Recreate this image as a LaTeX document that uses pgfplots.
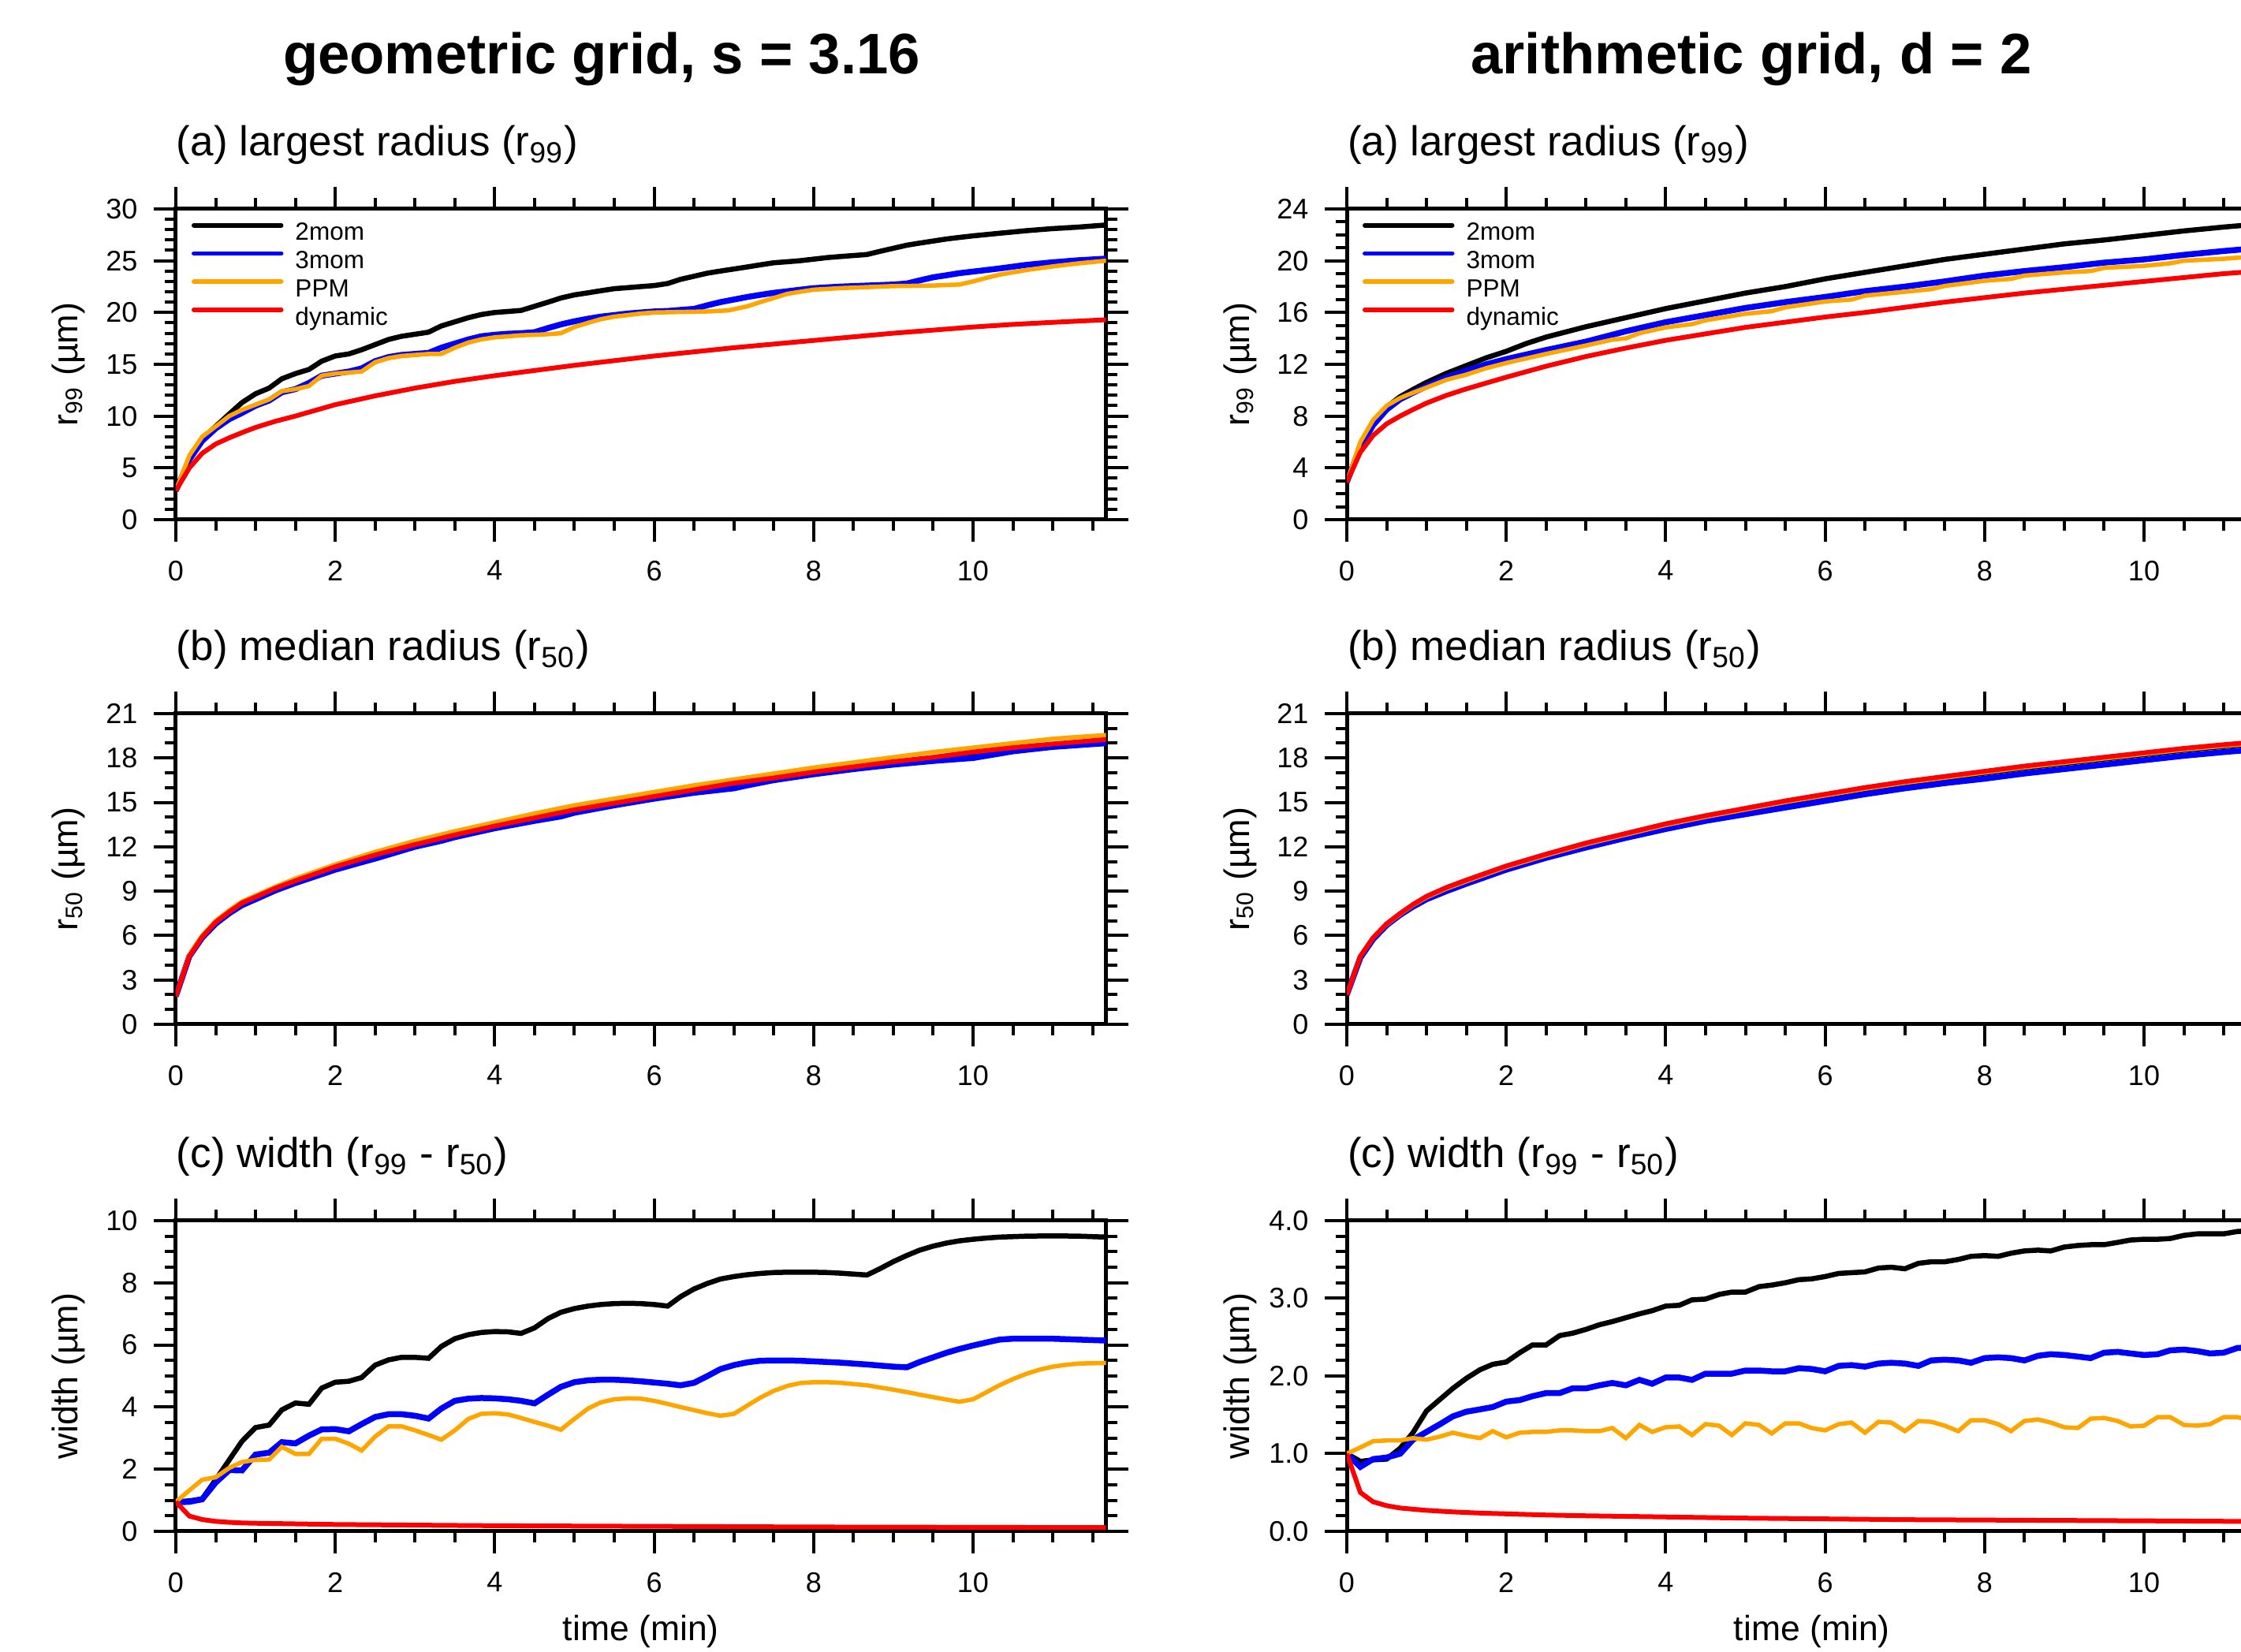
\documentclass[border=0pt]{standalone}
\usepackage{fontspec}
\setmainfont{Liberation Sans}
\usepackage{pgfplots}
\pgfplotsset{compat=1.18}
\definecolor{ncorange}{RGB}{255,165,0}
\definecolor{ncblue}{RGB}{0,0,255}
\definecolor{ncred}{RGB}{255,0,0}
\pgfplotsset{
  panel/.style={
    scale only axis, width=235.9pt, height=78.8pt,
    xmin=0, xmax=11.6667,
    xtick={0,2,4,6,8,10},
    minor xtick={0.5,1,1.5,2.5,3,3.5,4.5,5,5.5,6.5,7,7.5,8.5,9,9.5,10.5,11,11.5},
    xtick pos=both, ytick pos=both,
    xticklabel pos=left, yticklabel pos=left,
    tick align=outside,
    major tick length=5.6pt, minor tick length=2.8pt,
    tick style={line width=0.8pt, black},
    axis line style={line width=1pt},
    tick label style={font=\fontsize{7.2}{8}\selectfont},
    /pgf/number format/assume math mode=true,
    yticklabel style={anchor=east, inner sep=0pt, xshift=-3.9pt},
    xticklabel style={anchor=north, inner sep=0pt, yshift=-4.6pt},
    every axis title/.style={at={(rel axis cs:0,1)}, anchor=base west, yshift=13.4pt, font=\fontsize{10.6}{13}\selectfont, inner sep=0pt},
    every axis y label/.style={at={(rel axis cs:0,0.5)}, rotate=90, anchor=base, yshift=24.8pt, font=\fontsize{9}{10}\selectfont, inner sep=0pt},
    every axis x label/.style={at={(rel axis cs:0.5,0)}, anchor=base, yshift=-27.8pt, font=\fontsize{8.9}{10}\selectfont, inner sep=0pt},
    legend style={draw=none, fill=none, at={(0,1)}, anchor=north west, xshift=3.8pt, yshift=-2.6pt,
      font=\fontsize{6.3}{7}\selectfont, inner sep=0pt, column sep=3pt, row sep=0pt,
      nodes={inner sep=0pt, text height=5.2pt, text depth=1.94pt}},
    legend cell align=left,
    legend image code/.code={\draw[##1, line width=1.1pt, line cap=round] (0pt,2.2pt) -- (22.2pt,2.2pt);},
  },
  c2/.style={black, line width=1.3pt},
  c3/.style={ncblue, line width=1.5pt},
  cP/.style={ncorange, line width=1.1pt},
  cD/.style={ncred, line width=1.2pt},
}
\begin{document}
\begin{tikzpicture}
\useasboundingbox (0,0) rectangle (568.4pt,419pt);
\clip (0,0) rectangle (568.4pt,419pt);

\node[font=\fontsize{14.5}{16}\selectfont\bfseries, anchor=base, inner sep=0pt] at (152.6pt,400.2pt) {geometric grid, s = 3.16};
\node[font=\fontsize{14.5}{16}\selectfont\bfseries, anchor=base, inner sep=0pt] at (444.2pt,400.2pt) {arithmetic grid, d = 2};

% ---------------- (a) left
\begin{axis}[panel, at={(44.6pt,287.2pt)}, anchor=south west,
  ymin=0, ymax=30, ytick={0,5,...,30}, minor y tick num=4,
  title={(a) largest radius (r\textsubscript{99})}, ylabel={r\textsubscript{99} (µm)}]
\addplot[c2] coordinates {(0,2.8) (0.17,5.8) (0.33,7.8) (0.5,9.0) (0.67,10.2) (0.83,11.3) (1.0,12.15) (1.17,12.7) (1.33,13.6) (1.5,14.1) (1.67,14.5) (1.83,15.3) (2.0,15.8) (2.17,16.0) (2.33,16.4) (2.5,16.9) (2.67,17.4) (2.83,17.7) (3.0,17.9) (3.17,18.1) (3.33,18.7) (3.5,19.1) (3.67,19.5) (3.83,19.8) (4.0,20.0) (4.17,20.1) (4.33,20.2) (4.5,20.6) (4.67,21.0) (4.83,21.4) (5.0,21.7) (5.17,21.9) (5.33,22.1) (5.5,22.3) (5.67,22.4) (5.83,22.5) (6.0,22.6) (6.17,22.8) (6.33,23.2) (6.5,23.5) (6.67,23.8) (6.83,24.0) (7.0,24.2) (7.17,24.4) (7.33,24.6) (7.5,24.8) (7.67,24.9) (7.83,25.0) (8.0,25.15) (8.17,25.3) (8.33,25.4) (8.5,25.5) (8.67,25.6) (8.83,25.9) (9.0,26.2) (9.17,26.5) (9.33,26.7) (9.5,26.9) (9.67,27.1) (9.83,27.25) (10.0,27.4) (10.33,27.65) (10.67,27.9) (11.0,28.1) (11.33,28.25) (11.67,28.45)};
\addplot[c3] coordinates {(0,2.8) (0.17,5.8) (0.33,7.6) (0.5,8.8) (0.67,9.7) (0.83,10.3) (1.0,11.0) (1.17,11.5) (1.33,12.3) (1.5,12.6) (1.67,13.2) (1.83,13.9) (2.0,14.1) (2.17,14.3) (2.33,14.6) (2.5,15.3) (2.67,15.7) (2.83,15.9) (3.0,16.0) (3.17,16.1) (3.33,16.6) (3.5,17.0) (3.67,17.4) (3.83,17.7) (4.0,17.85) (4.17,17.95) (4.33,18.0) (4.5,18.1) (4.67,18.5) (4.83,18.85) (5.0,19.15) (5.17,19.4) (5.33,19.6) (5.5,19.75) (5.67,19.9) (5.83,20.0) (6.0,20.1) (6.17,20.15) (6.33,20.25) (6.5,20.35) (6.67,20.7) (6.83,21.0) (7.0,21.25) (7.17,21.5) (7.33,21.7) (7.5,21.9) (7.67,22.05) (7.83,22.2) (8.0,22.35) (8.33,22.5) (8.67,22.6) (9.0,22.7) (9.17,22.8) (9.33,23.1) (9.5,23.4) (9.67,23.6) (9.83,23.8) (10.0,23.95) (10.33,24.25) (10.67,24.6) (11.0,24.85) (11.33,25.05) (11.67,25.2)};
\addplot[cP] coordinates {(0,2.8) (0.17,6.2) (0.33,8.0) (0.5,9.0) (0.67,10.0) (0.83,10.6) (1.0,11.1) (1.17,11.6) (1.33,12.4) (1.5,12.6) (1.67,12.9) (1.83,13.9) (2.0,14.1) (2.17,14.2) (2.33,14.3) (2.5,15.2) (2.67,15.6) (2.83,15.8) (3.0,15.9) (3.17,16.0) (3.33,16.0) (3.5,16.6) (3.67,17.1) (3.83,17.4) (4.0,17.6) (4.17,17.7) (4.33,17.8) (4.5,17.85) (4.67,17.9) (4.83,18.0) (5.0,18.6) (5.17,19.0) (5.33,19.35) (5.5,19.6) (5.67,19.75) (5.83,19.9) (6.0,20.0) (6.33,20.05) (6.67,20.1) (6.93,20.2) (7.17,20.6) (7.33,21.0) (7.5,21.4) (7.67,21.8) (7.83,22.0) (8.0,22.2) (8.33,22.35) (8.67,22.45) (9.0,22.55) (9.5,22.6) (9.83,22.7) (10.0,23.0) (10.17,23.35) (10.33,23.65) (10.67,24.1) (11.0,24.45) (11.33,24.75) (11.67,25.0)};
\addplot[cD] coordinates {(0,2.8) (0.17,5.0) (0.33,6.4) (0.5,7.3) (0.67,7.9) (0.83,8.4) (1.0,8.9) (1.25,9.5) (1.5,10.0) (2.0,11.1) (2.5,11.95) (3.0,12.7) (3.5,13.35) (4.0,13.9) (4.5,14.4) (5.0,14.9) (5.5,15.35) (6.0,15.8) (6.5,16.2) (7.0,16.6) (7.5,16.95) (8.0,17.3) (8.5,17.65) (9.0,18.0) (9.5,18.3) (10.0,18.6) (10.5,18.85) (11.0,19.05) (11.67,19.3)};
\legend{2mom,3mom,PPM,dynamic}
\end{axis}

% ---------------- (a) right
\begin{axis}[panel, at={(341.6pt,287.2pt)}, anchor=south west,
  ymin=0, ymax=24, ytick={0,4,...,24}, minor y tick num=3,
  title={(a) largest radius (r\textsubscript{99})}, ylabel={r\textsubscript{99} (µm)}]
\addplot[c2] coordinates {(0,2.9) (0.17,5.8) (0.33,7.5) (0.5,8.7) (0.67,9.5) (0.83,10.05) (1.0,10.6) (1.25,11.3) (1.5,11.9) (1.75,12.5) (2.0,13.0) (2.25,13.6) (2.5,14.1) (2.75,14.5) (3.0,14.9) (3.5,15.6) (4.0,16.3) (4.5,16.9) (5.0,17.5) (5.5,18.0) (6.0,18.6) (6.5,19.1) (7.0,19.6) (7.5,20.1) (8.0,20.5) (8.5,20.9) (9.0,21.3) (9.5,21.6) (10.0,21.95) (10.5,22.3) (11.0,22.6) (11.67,22.95)};
\addplot[c3] coordinates {(0,2.9) (0.17,5.6) (0.33,7.3) (0.5,8.5) (0.67,9.3) (0.83,9.8) (1.0,10.3) (1.25,11.0) (1.5,11.5) (1.75,12.0) (2.0,12.4) (2.5,13.1) (3.0,13.75) (3.5,14.55) (4.0,15.25) (4.5,15.8) (5.0,16.35) (5.5,16.8) (6.0,17.2) (6.5,17.65) (7.0,18.0) (7.5,18.4) (8.0,18.85) (8.5,19.2) (9.0,19.5) (9.5,19.85) (10.0,20.1) (10.5,20.45) (11.0,20.75) (11.67,21.1)};
\addplot[cP] coordinates {(0,2.9) (0.17,6.0) (0.33,7.7) (0.5,8.8) (0.67,9.4) (0.83,9.8) (1.0,10.2) (1.25,10.8) (1.5,11.2) (1.75,11.7) (2.0,12.1) (2.5,12.8) (3.0,13.45) (3.33,13.9) (3.5,14.0) (3.67,14.4) (4.0,14.85) (4.33,15.1) (4.5,15.4) (5.0,15.9) (5.33,16.1) (5.5,16.4) (6.0,16.85) (6.33,17.0) (6.5,17.3) (7.0,17.6) (7.33,17.8) (7.5,18.05) (8.0,18.45) (8.33,18.6) (8.5,18.85) (9.0,19.1) (9.33,19.2) (9.5,19.45) (10.0,19.6) (10.33,19.8) (10.5,20.0) (11.0,20.15) (11.33,20.3) (11.67,20.6)};
\addplot[cD] coordinates {(0,2.9) (0.17,5.2) (0.33,6.5) (0.5,7.4) (0.67,8.0) (0.83,8.5) (1.0,9.0) (1.25,9.6) (1.5,10.1) (2.0,11.0) (2.5,11.85) (3.0,12.6) (3.5,13.25) (4.0,13.85) (4.5,14.35) (5.0,14.85) (5.5,15.25) (6.0,15.65) (6.5,16.0) (7.0,16.4) (7.5,16.8) (8.0,17.15) (8.5,17.5) (9.0,17.8) (9.5,18.1) (10.0,18.4) (10.5,18.7) (11.0,19.0) (11.67,19.3)};
\legend{2mom,3mom,PPM,dynamic}
\end{axis}

% ---------------- (b) left
\begin{axis}[panel, at={(44.6pt,159.2pt)}, anchor=south west,
  ymin=0, ymax=21, ytick={0,3,...,21}, minor y tick num=2,
  title={(b) median radius (r\textsubscript{50})}, ylabel={r\textsubscript{50} (µm)}]
\addplot[c2] coordinates {(0,1.9) (0.17,4.6) (0.33,5.9) (0.5,6.85) (0.67,7.55) (0.83,8.15) (1.0,8.55) (1.25,9.15) (1.5,9.65) (2.0,10.55) (2.5,11.35) (3.0,12.05) (3.5,12.7) (4.0,13.3) (4.5,13.85) (5.0,14.4) (5.5,14.85) (6.0,15.3) (6.5,15.75) (7.0,16.15) (7.5,16.55) (8.0,16.95) (8.5,17.3) (9.0,17.65) (9.5,17.95) (10.0,18.25) (10.5,18.55) (11.0,18.85) (11.67,19.15)};
\addplot[c3] coordinates {(0,1.9) (0.17,4.6) (0.33,5.85) (0.5,6.8) (0.67,7.5) (0.83,8.05) (1.0,8.45) (1.25,9.05) (1.5,9.55) (2.0,10.45) (2.33,10.95) (2.5,11.2) (3.0,12.0) (3.33,12.4) (3.5,12.65) (4.0,13.25) (4.5,13.75) (4.83,14.05) (5.0,14.3) (5.5,14.8) (6.0,15.25) (6.5,15.65) (7.0,15.95) (7.17,16.15) (7.5,16.5) (8.0,16.9) (8.5,17.25) (9.0,17.55) (9.5,17.8) (10.0,18.0) (10.17,18.15) (10.5,18.45) (11.0,18.75) (11.67,19.0)};
\addplot[cP] coordinates {(0,1.9) (0.17,4.7) (0.33,6.0) (0.5,7.0) (0.67,7.7) (0.83,8.3) (1.0,8.7) (1.25,9.3) (1.5,9.85) (2.0,10.8) (2.5,11.65) (3.0,12.4) (3.5,13.05) (4.0,13.65) (4.5,14.25) (5.0,14.8) (5.5,15.25) (6.0,15.7) (6.5,16.15) (7.0,16.55) (7.5,16.95) (8.0,17.35) (8.5,17.7) (9.0,18.05) (9.5,18.4) (10.0,18.7) (10.5,19.0) (11.0,19.3) (11.67,19.55)};
\addplot[cD] coordinates {(0,1.9) (0.17,4.6) (0.33,5.9) (0.5,6.9) (0.67,7.6) (0.83,8.2) (1.0,8.6) (1.25,9.2) (1.5,9.7) (2.0,10.65) (2.5,11.45) (3.0,12.15) (3.5,12.8) (4.0,13.4) (4.5,13.95) (5.0,14.5) (5.5,14.95) (6.0,15.4) (6.5,15.85) (7.0,16.3) (7.5,16.65) (8.0,17.05) (8.5,17.4) (9.0,17.75) (9.5,18.05) (10.0,18.4) (10.5,18.7) (11.0,18.95) (11.67,19.25)};
\end{axis}

% ---------------- (b) right
\begin{axis}[panel, at={(341.6pt,159.2pt)}, anchor=south west,
  ymin=0, ymax=21, ytick={0,3,...,21}, minor y tick num=2,
  title={(b) median radius (r\textsubscript{50})}, ylabel={r\textsubscript{50} (µm)}]
\addplot[c2] coordinates {(0,2.0) (0.17,4.55) (0.33,5.8) (0.5,6.72) (0.67,7.4) (0.83,8.0) (1.0,8.55) (1.25,9.13) (1.5,9.63) (2.0,10.58) (2.5,11.38) (3.0,12.13) (3.5,12.78) (4.0,13.43) (4.5,13.98) (5.0,14.48) (5.5,14.98) (6.0,15.43) (6.5,15.88) (7.0,16.28) (7.5,16.63) (8.0,16.98) (8.5,17.33) (9.0,17.63) (9.5,17.93) (10.0,18.23) (10.5,18.53) (11.0,18.78) (11.67,19.08)};
\addplot[c3] coordinates {(0,2.0) (0.17,4.5) (0.33,5.75) (0.5,6.7) (0.67,7.4) (0.83,7.95) (1.0,8.45) (1.25,9.0) (1.5,9.5) (2.0,10.45) (2.5,11.25) (3.0,11.95) (3.5,12.6) (4.0,13.2) (4.5,13.75) (5.0,14.2) (5.5,14.65) (6.0,15.1) (6.5,15.55) (7.0,15.95) (7.5,16.3) (8.0,16.6) (8.5,16.95) (9.0,17.25) (9.5,17.55) (10.0,17.85) (10.5,18.15) (11.0,18.4) (11.67,18.7)};
\addplot[cP] coordinates {(0,2.0) (0.17,4.6) (0.33,5.85) (0.5,6.75) (0.67,7.45) (0.83,8.05) (1.0,8.58) (1.25,9.17) (1.5,9.67) (2.0,10.62) (2.5,11.42) (3.0,12.17) (3.5,12.82) (4.0,13.47) (4.5,14.02) (5.0,14.52) (5.5,15.02) (6.0,15.47) (6.5,15.92) (7.0,16.32) (7.5,16.67) (8.0,17.02) (8.5,17.37) (9.0,17.67) (9.5,17.97) (10.0,18.27) (10.5,18.57) (11.0,18.82) (11.67,19.12)};
\addplot[cD] coordinates {(0,2.0) (0.17,4.6) (0.33,5.85) (0.5,6.8) (0.67,7.5) (0.83,8.1) (1.0,8.65) (1.25,9.25) (1.5,9.75) (2.0,10.7) (2.5,11.5) (3.0,12.25) (3.5,12.9) (4.0,13.55) (4.5,14.1) (5.0,14.6) (5.5,15.1) (6.0,15.55) (6.5,16.0) (7.0,16.4) (7.5,16.75) (8.0,17.1) (8.5,17.45) (9.0,17.75) (9.5,18.05) (10.0,18.35) (10.5,18.65) (11.0,18.9) (11.67,19.2)};
\end{axis}

% ---------------- (c) left
\begin{axis}[panel, at={(44.6pt,30.6pt)}, anchor=south west,
  ymin=0, ymax=10, ytick={0,2,...,10}, minor y tick num=3,
  title={(c) width (r\textsubscript{99} - r\textsubscript{50})}, ylabel={width (µm)}, xlabel={time (min)}]
\addplot[c2] coordinates {(0,0.95) (0.17,0.98) (0.33,1.04) (0.5,1.66) (0.67,2.3) (0.83,2.9) (1.0,3.34) (1.17,3.42) (1.33,3.91) (1.5,4.13) (1.67,4.09) (1.83,4.61) (2.0,4.8) (2.17,4.83) (2.33,4.95) (2.5,5.35) (2.67,5.52) (2.83,5.6) (3.0,5.6) (3.17,5.57) (3.33,5.95) (3.5,6.2) (3.67,6.33) (3.83,6.4) (4.0,6.43) (4.17,6.42) (4.33,6.37) (4.5,6.55) (4.67,6.85) (4.83,7.05) (5.0,7.17) (5.17,7.25) (5.33,7.3) (5.5,7.33) (5.67,7.34) (5.83,7.33) (6.0,7.3) (6.17,7.25) (6.33,7.55) (6.5,7.8) (6.67,7.98) (6.83,8.12) (7.0,8.2) (7.17,8.26) (7.33,8.3) (7.5,8.33) (7.67,8.34) (7.83,8.34) (8.0,8.34) (8.17,8.33) (8.33,8.31) (8.5,8.28) (8.67,8.25) (8.83,8.45) (9.0,8.68) (9.17,8.88) (9.33,9.05) (9.5,9.18) (9.67,9.28) (9.83,9.35) (10.0,9.4) (10.17,9.44) (10.33,9.47) (10.67,9.5) (11.0,9.51) (11.33,9.5) (11.67,9.47)};
\addplot[c3] coordinates {(0,0.93) (0.17,0.95) (0.33,1.03) (0.5,1.57) (0.67,1.97) (0.83,1.96) (1.0,2.47) (1.17,2.53) (1.33,2.87) (1.5,2.83) (1.67,3.08) (1.83,3.28) (2.0,3.29) (2.17,3.22) (2.33,3.45) (2.5,3.68) (2.67,3.77) (2.83,3.77) (3.0,3.72) (3.17,3.63) (3.33,3.95) (3.5,4.2) (3.67,4.27) (3.83,4.29) (4.0,4.28) (4.17,4.25) (4.33,4.2) (4.5,4.12) (4.67,4.4) (4.83,4.65) (5.0,4.8) (5.17,4.86) (5.33,4.88) (5.5,4.88) (5.67,4.86) (5.83,4.83) (6.0,4.79) (6.17,4.75) (6.33,4.7) (6.5,4.78) (6.67,5.0) (6.83,5.22) (7.0,5.35) (7.17,5.44) (7.33,5.49) (7.5,5.5) (7.67,5.5) (7.83,5.49) (8.0,5.47) (8.33,5.43) (8.67,5.37) (9.0,5.3) (9.17,5.28) (9.33,5.45) (9.5,5.6) (9.67,5.75) (9.83,5.87) (10.0,5.98) (10.17,6.08) (10.33,6.17) (10.5,6.2) (10.67,6.2) (11.0,6.2) (11.33,6.17) (11.67,6.14)};
\addplot[cP] coordinates {(0,0.95) (0.17,1.32) (0.33,1.66) (0.5,1.74) (0.67,2.04) (0.83,2.23) (1.0,2.3) (1.17,2.31) (1.33,2.72) (1.5,2.49) (1.67,2.49) (1.83,2.98) (2.0,2.98) (2.17,2.82) (2.33,2.6) (2.5,3.05) (2.67,3.38) (2.83,3.38) (3.0,3.25) (3.17,3.1) (3.33,2.95) (3.5,3.25) (3.67,3.62) (3.83,3.78) (4.0,3.8) (4.17,3.76) (4.33,3.65) (4.5,3.52) (4.67,3.4) (4.83,3.27) (5.0,3.62) (5.17,3.95) (5.33,4.15) (5.5,4.25) (5.67,4.28) (5.83,4.27) (6.0,4.2) (6.17,4.1) (6.33,4.0) (6.5,3.9) (6.67,3.8) (6.83,3.72) (7.0,3.78) (7.17,4.05) (7.33,4.3) (7.5,4.52) (7.67,4.68) (7.83,4.77) (8.0,4.8) (8.17,4.8) (8.33,4.78) (8.5,4.74) (8.67,4.7) (8.83,4.63) (9.0,4.56) (9.17,4.48) (9.33,4.4) (9.5,4.32) (9.67,4.24) (9.83,4.17) (10.0,4.25) (10.17,4.48) (10.33,4.7) (10.5,4.9) (10.67,5.07) (10.83,5.2) (11.0,5.3) (11.17,5.36) (11.33,5.4) (11.5,5.41) (11.67,5.42)};
\addplot[cD] coordinates {(0,0.95) (0.17,0.49) (0.33,0.38) (0.5,0.32) (0.67,0.29) (0.83,0.27) (1.0,0.26) (1.5,0.24) (2.0,0.22) (3.0,0.2) (4.0,0.18) (5.0,0.17) (6.0,0.16) (7.0,0.15) (8.0,0.14) (9.0,0.135) (10.0,0.13) (11.67,0.12)};
\end{axis}

% ---------------- (c) right
\begin{axis}[panel, at={(341.6pt,30.6pt)}, anchor=south west,
  ymin=0, ymax=4, ytick={0,1,2,3,4}, minor y tick num=4,
  yticklabel style={/pgf/number format/.cd, fixed, fixed zerofill, precision=1},
  title={(c) width (r\textsubscript{99} - r\textsubscript{50})}, ylabel={width (µm)}, xlabel={time (min)}]
\addplot[c2] coordinates {(0,1.0) (0.17,0.9) (0.33,0.92) (0.5,0.93) (0.67,1.07) (0.83,1.27) (1.0,1.55) (1.17,1.7) (1.33,1.84) (1.5,1.97) (1.67,2.08) (1.83,2.15) (2.0,2.18) (2.17,2.3) (2.33,2.4) (2.5,2.4) (2.67,2.52) (2.83,2.55) (3.0,2.6) (3.17,2.66) (3.33,2.7) (3.5,2.75) (3.67,2.8) (3.83,2.84) (4.0,2.9) (4.17,2.91) (4.33,2.98) (4.5,2.99) (4.67,3.05) (4.83,3.08) (5.0,3.08) (5.17,3.15) (5.33,3.17) (5.5,3.2) (5.67,3.24) (5.83,3.25) (6.0,3.28) (6.17,3.32) (6.33,3.33) (6.5,3.34) (6.67,3.39) (6.83,3.4) (7.0,3.38) (7.17,3.45) (7.33,3.47) (7.5,3.47) (7.67,3.5) (7.83,3.54) (8.0,3.55) (8.17,3.54) (8.33,3.58) (8.5,3.61) (8.67,3.62) (8.83,3.61) (9.0,3.66) (9.17,3.68) (9.33,3.69) (9.5,3.69) (9.67,3.72) (9.83,3.75) (10.0,3.76) (10.17,3.76) (10.33,3.77) (10.5,3.81) (10.67,3.83) (10.83,3.83) (11.0,3.83) (11.17,3.86) (11.33,3.87) (11.5,3.88) (11.67,3.9)};
\addplot[c3] coordinates {(0,1.0) (0.17,0.83) (0.33,0.93) (0.5,0.95) (0.67,1.0) (0.83,1.18) (1.0,1.28) (1.17,1.38) (1.33,1.48) (1.5,1.54) (1.67,1.57) (1.83,1.6) (2.0,1.67) (2.17,1.69) (2.33,1.74) (2.5,1.78) (2.67,1.78) (2.83,1.84) (3.0,1.84) (3.17,1.88) (3.33,1.91) (3.5,1.88) (3.67,1.95) (3.83,1.9) (4.0,1.98) (4.17,1.98) (4.33,1.95) (4.5,2.03) (4.67,2.03) (4.83,2.03) (5.0,2.07) (5.17,2.07) (5.33,2.06) (5.5,2.06) (5.67,2.1) (5.83,2.09) (6.0,2.06) (6.17,2.13) (6.33,2.14) (6.5,2.12) (6.67,2.16) (6.83,2.17) (7.0,2.16) (7.17,2.13) (7.33,2.2) (7.5,2.21) (7.67,2.2) (7.83,2.17) (8.0,2.23) (8.17,2.24) (8.33,2.23) (8.5,2.2) (8.67,2.26) (8.83,2.28) (9.0,2.27) (9.17,2.25) (9.33,2.23) (9.5,2.3) (9.67,2.31) (9.83,2.29) (10.0,2.27) (10.17,2.28) (10.33,2.33) (10.5,2.34) (10.67,2.32) (10.83,2.29) (11.0,2.3) (11.17,2.36) (11.33,2.37) (11.5,2.36) (11.67,2.35)};
\addplot[cP] coordinates {(0,1.0) (0.17,1.08) (0.33,1.16) (0.5,1.17) (0.67,1.17) (0.83,1.2) (1.0,1.18) (1.17,1.22) (1.33,1.27) (1.5,1.23) (1.67,1.2) (1.83,1.29) (2.0,1.21) (2.17,1.27) (2.33,1.28) (2.5,1.28) (2.67,1.3) (2.83,1.3) (3.0,1.29) (3.17,1.29) (3.33,1.33) (3.5,1.2) (3.67,1.37) (3.83,1.28) (4.0,1.34) (4.17,1.35) (4.33,1.24) (4.5,1.38) (4.67,1.36) (4.83,1.24) (5.0,1.39) (5.17,1.37) (5.33,1.26) (5.5,1.39) (5.67,1.39) (5.83,1.33) (6.0,1.3) (6.17,1.38) (6.33,1.4) (6.5,1.27) (6.67,1.41) (6.83,1.4) (7.0,1.29) (7.17,1.42) (7.33,1.41) (7.5,1.36) (7.67,1.29) (7.83,1.43) (8.0,1.43) (8.17,1.38) (8.33,1.29) (8.5,1.42) (8.67,1.44) (8.83,1.4) (9.0,1.34) (9.17,1.33) (9.33,1.45) (9.5,1.46) (9.67,1.42) (9.83,1.35) (10.0,1.36) (10.17,1.47) (10.33,1.47) (10.5,1.37) (10.67,1.36) (10.83,1.38) (11.0,1.47) (11.17,1.47) (11.33,1.43) (11.5,1.4) (11.67,1.45)};
\addplot[cD] coordinates {(0,1.0) (0.17,0.5) (0.33,0.38) (0.5,0.33) (0.67,0.3) (0.83,0.285) (1.0,0.27) (1.33,0.25) (1.67,0.235) (2.0,0.225) (2.5,0.21) (3.0,0.2) (4.0,0.185) (5.0,0.17) (6.0,0.16) (7.0,0.15) (8.0,0.145) (9.0,0.14) (10.0,0.135) (11.67,0.125)};
\end{axis}
\end{tikzpicture}
\end{document}
